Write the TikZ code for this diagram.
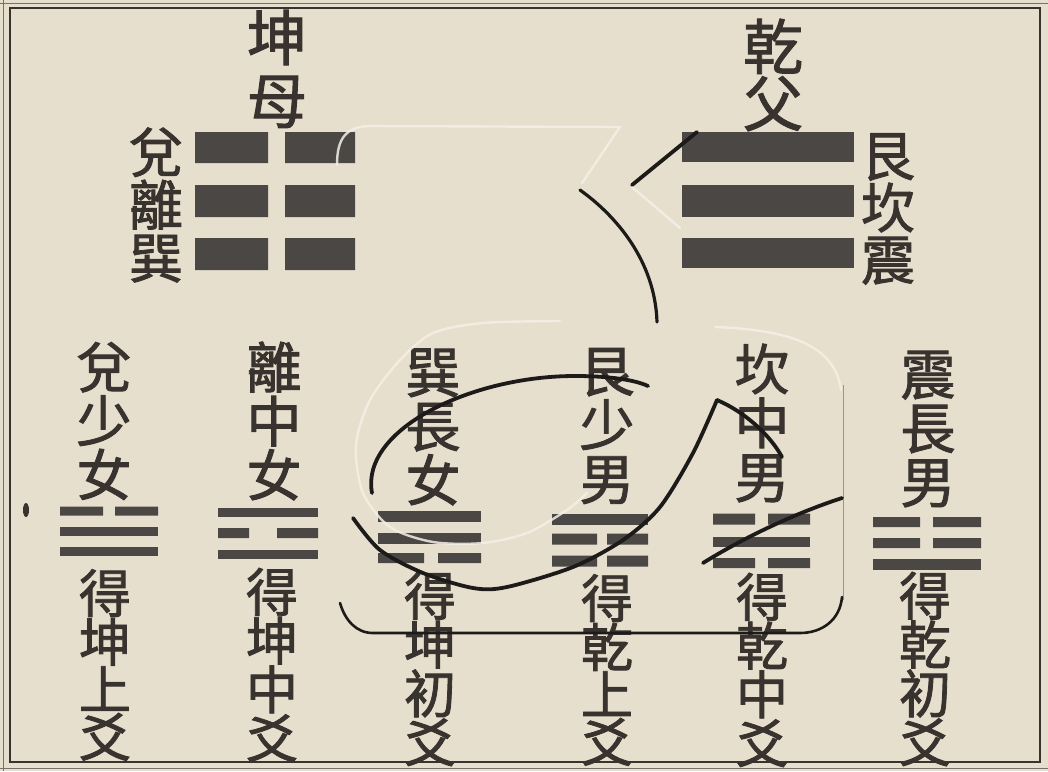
\documentclass[tikz,border=0pt]{standalone}
\usepackage{fontspec}
\newfontfamily\cjk[FakeBold=1.6]{Noto Sans CJK TC}
\definecolor{paper}{HTML}{E7DFCD}
\definecolor{ink}{HTML}{38332F}
\definecolor{barc}{HTML}{4A4745}
\definecolor{penc}{HTML}{1C1B1A}
\definecolor{glint}{HTML}{F4EFE6}
\definecolor{rule}{HTML}{9A948A}
\newcommand\yaoYang[4]{\fill[barc] (#1,{#3-#4/2}) rectangle (#2,{#3+#4/2});}
\newcommand\yaoYin[6]{\fill[barc] (#1,{#5-#6/2}) rectangle (#3,{#5+#6/2}) (#4,{#5-#6/2}) rectangle (#2,{#5+#6/2});}
\begin{document}
\begin{tikzpicture}[x=1pt,y=-1pt,
  lbl/.style={text=ink, align=center, inner sep=0pt},
  head/.style={lbl, font=\cjk\fontsize{55}{54}\selectfont},
  foot/.style={lbl, font=\cjk\fontsize{52}{47.5}\selectfont},
  pen/.style={draw=penc, line width=3.8pt, line cap=round},
  shine/.style={draw=glint, line width=2.4pt, line cap=round, opacity=0.85}]
\fill[paper] (0,0) rectangle (1048,771);
\useasboundingbox (0,0) rectangle (1048,771);
% frame
\draw[ink, line width=1.8pt] (10,8) rectangle (1040,762);
\draw[ink!70, line width=1pt] (3.5,0) -- (3.5,771);
\draw[ink!70, line width=1pt] (0,3) -- (1048,3);
\draw[ink!70, line width=1pt] (0,768) -- (1048,768);
% faint right edge of the stamp
\draw[rule, line width=1pt] (843,385) -- (843,600);
% top labels
\node[lbl, font=\cjk\fontsize{60}{63}\selectfont] (kunmu) at (277,69) {坤\\母};
\node[lbl, font=\cjk\fontsize{60}{57}\selectfont] (qianfu) at (773,75) {乾\\父};
\node[lbl, font=\cjk\fontsize{54}{53}\selectfont] (duilixun) at (156,205) {兌\\離\\巽};
\node[lbl, font=\cjk\fontsize{54}{52}\selectfont] (genkanzhen) at (888,209) {艮\\坎\\震};
% top trigrams
\yaoYin{195}{355}{268}{285}{147.5}{31}
\yaoYin{195}{355}{268}{285}{201}{32}
\yaoYin{195}{355}{268}{285}{254}{32}
\yaoYang{682}{854}{147}{30}
\yaoYang{682}{854}{201}{32}
\yaoYang{682}{854}{253}{30}
% bottom headings
\node[head] (dui) at (104,421) {兌\\少\\女};
\node[head] (li) at (274,421) {離\\中\\女};
\node[head] (xun) at (433,427) {巽\\長\\女};
\node[head] (gen) at (607,426) {艮\\少\\男};
\node[head] (kan) at (762,423) {坎\\中\\男};
\node[head] (zhen) at (928,429) {震\\長\\男};
% bottom trigrams
\yaoYin{60}{158}{103}{115}{511}{9}
\yaoYang{60}{158}{531}{9}
\yaoYang{60}{158}{551}{9}
\yaoYang{218}{318}{512}{9}
\yaoYin{218}{318}{249}{277}{533}{10}
\yaoYang{218}{318}{554}{9}
\yaoYang{378}{481}{516}{11}
\yaoYang{378}{481}{538}{11}
\yaoYin{378}{481}{424}{438}{558}{10}
\yaoYang{552}{648}{519}{11}
\yaoYin{552}{648}{597}{607}{539}{11}
\yaoYin{552}{648}{597}{607}{561}{11}
\yaoYin{713}{810}{755}{768}{519}{11}
\yaoYang{713}{810}{542}{10}
\yaoYin{713}{810}{755}{768}{563}{10}
\yaoYin{873}{981}{920}{933}{522}{10}
\yaoYin{873}{981}{920}{933}{543}{10}
\yaoYang{873}{981}{564}{11}
% bottom texts
\node[foot] (de1) at (105,665) {得\\坤\\上\\爻};
\node[foot] (de2) at (272,665) {得\\坤\\中\\爻};
\node[foot] (de3) at (430,669) {得\\坤\\初\\爻};
\node[foot] (de4) at (607,670) {得\\乾\\上\\爻};
\node[foot] (de5) at (762,670) {得\\乾\\中\\爻};
\node[foot] (de6) at (925,669) {得\\乾\\初\\爻};
% light strokes of the stamp
\draw[shine] (337,165) .. controls (337,138) and (346,126) .. (372,126) -- (620,127) -- (582,183);
\draw[shine] (632,187) -- (680,228);
\draw[shine] (715,327) .. controls (790,330) and (835,345) .. (841,390);
\draw[shine] plot[smooth] coordinates {(560,321) (483,323) (433,333) (400,360) (370,400) (356,445) (363,493) (390,527) (433,542) (483,543) (527,533) (567,510) (587,493)};
% dark pen strokes of the stamp
\draw[pen] (697,132) -- (632,185);
\draw[pen, line width=3.2pt] (580,190) .. controls (615,215) and (655,260) .. (657,322);
\draw[pen] (372,493) .. controls (360,430) and (470,376) .. (575,376) .. controls (610,376) and (635,380) .. (648,386);
\draw[pen] plot[smooth] coordinates {(353,518) (380,550) (423,573) (473,588) (507,587) (573,567) (623,540) (660,507) (693,453) (717,400)};
\draw[pen] (717,400) .. controls (745,412) and (770,435) .. (782,457);
\draw[pen] (842,498) .. controls (790,515) and (740,540) .. (703,563);
\draw[pen, line width=2.6pt] (842,597) .. controls (840,620) and (822,633) .. (800,633) -- (373,633) .. controls (356,633) and (345,620) .. (340,603);
% small mark at left margin
\fill[ink] (26,510) ellipse (3pt and 7pt);
\end{tikzpicture}
\end{document}
